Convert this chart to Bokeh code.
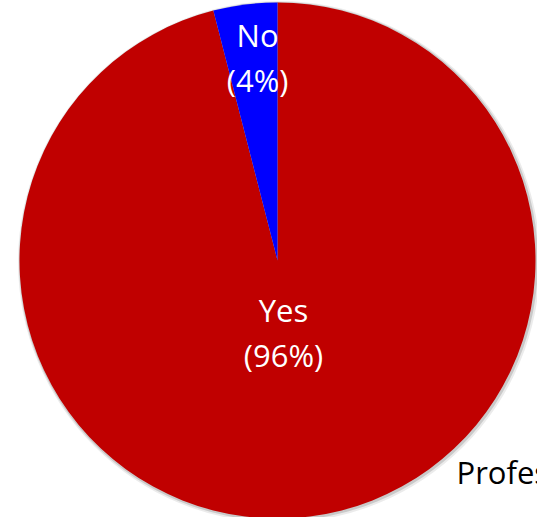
import math
from bokeh.plotting import figure
from bokeh.models import Range1d, ColumnDataSource
from bokeh.core.properties import value
from bokeh.embed import file_html
from bokeh.resources import INLINE

# ---- data ----
categories = ["Yes", "No"]
shares = [96, 4]
colors = ["#C00000", "#0000FF"]
pct_labels = ["(96%)", "(4%)"]
side_text = "Profes"

# ---- layout (pixel-like data units) ----
W, H = 537, 517
cx, cy, R = 277, 257, 258
# label placement: (fraction of radius, angle shift in degrees from slice middle)
label_pos = {"Yes": (0.324, -3.1), "No": (0.75, -1.3)}
line_gap = 45
text_dy = 11
font = value("Open Sans")

p = figure(width=W, height=H, output_backend="svg", toolbar_location=None,
           x_range=Range1d(0, W), y_range=Range1d(0, H), min_border=0)
p.axis.visible = False
p.grid.visible = False
p.outline_line_color = None
p.background_fill_color = "white"

# angles: "No" starts at top going counter-clockwise, "Yes" fills the rest
total = sum(shares)
order = [1, 0]
start = math.pi / 2
starts, ends, mids = {}, {}, {}
for i in order:
    span = shares[i] / total * 2 * math.pi
    starts[i] = start
    ends[i] = start + span
    mids[i] = start + span / 2
    start += span

src = ColumnDataSource(dict(
    start=[starts[i] for i in range(len(categories))],
    end=[ends[i] for i in range(len(categories))],
    color=colors,
))

# soft shadow
p.circle(x=cx + 1.5, y=cy - 1.5, radius=R + 3, fill_color="#000000", fill_alpha=0.08, line_color=None)
p.circle(x=cx + 1, y=cy - 1, radius=R + 1.5, fill_color="#000000", fill_alpha=0.14, line_color=None)

p.wedge(x=cx, y=cy, radius=R, start_angle="start", end_angle="end",
        fill_color="color", line_color=None, source=src)

lx, ly1, ly2, t1, t2 = [], [], [], [], []
for i, c in enumerate(categories):
    frac, shift = label_pos[c]
    ang = mids[i] + math.radians(shift)
    rr = frac * R
    ax = cx + rr * math.cos(ang)
    ay = cy + rr * math.sin(ang) + text_dy
    lx.append(ax)
    ly1.append(ay + line_gap / 2)
    ly2.append(ay - line_gap / 2)
    t1.append(c)
    t2.append(pct_labels[i])

p.text(x=lx, y=ly1, text=t1, text_font=font, text_font_size="31px",
       text_color="white", text_align="center", text_baseline="alphabetic")
p.text(x=lx, y=ly2, text=t2, text_font=font, text_font_size="31px",
       text_color="white", text_align="center", text_baseline="alphabetic")

p.text(x=[456], y=[H - 482 + text_dy], text=[side_text], text_font=font, text_font_size="31px",
       text_color="black", text_align="left", text_baseline="alphabetic")

open("out.html", "w").write(file_html(p, INLINE))
